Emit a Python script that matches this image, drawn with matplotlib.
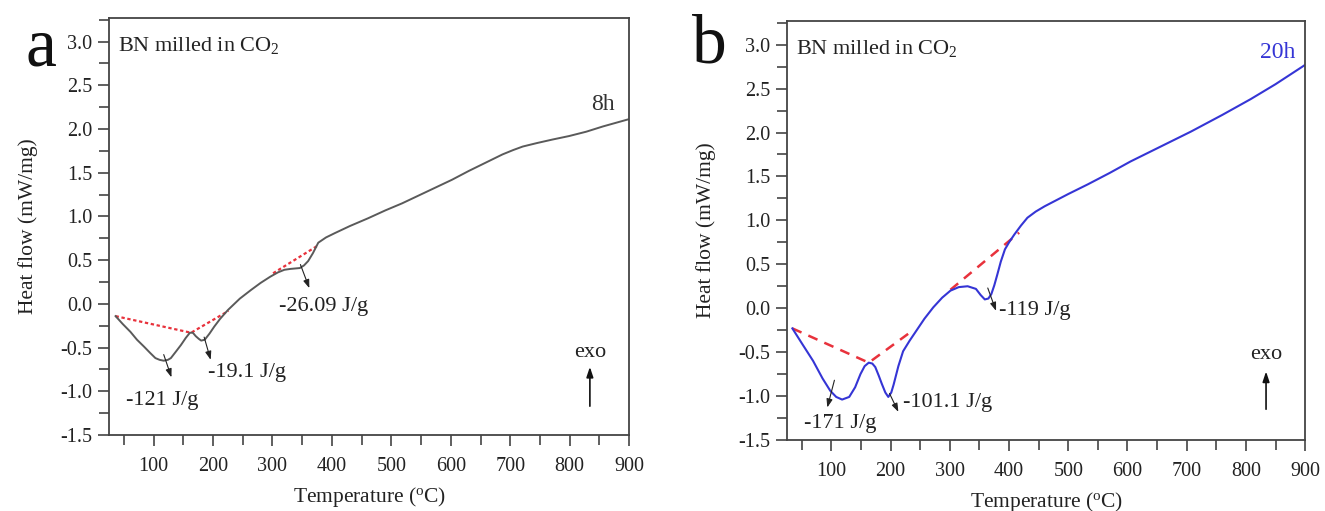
import matplotlib
matplotlib.use("Agg")
import matplotlib.pyplot as plt
from matplotlib.ticker import MultipleLocator

plt.rcParams['font.family'] = ['Liberation Serif', 'DejaVu Serif']
plt.rcParams['mathtext.fontset'] = 'custom'
plt.rcParams['mathtext.rm'] = 'Liberation Serif'
plt.rcParams['mathtext.it'] = 'Liberation Serif:italic'

# ---------------- data ----------------
# Panel a: 8h milled
temp_a = [36, 48, 61, 72, 84, 94, 103, 110, 117, 124, 129, 137, 146, 154, 161, 166,
          171, 176, 180, 186, 194, 202, 212, 225, 245, 264, 280, 296, 309, 320, 330,
          346, 353, 360, 368, 377, 390, 405, 430, 461, 490, 518, 546, 574, 602, 630,
          660, 687, 705, 721, 745, 771, 799, 828, 856, 898]
flow_a = [-0.14, -0.23, -0.32, -0.41, -0.49, -0.56, -0.62, -0.64, -0.65, -0.64, -0.62,
          -0.55, -0.47, -0.39, -0.33, -0.33, -0.37, -0.40, -0.42, -0.41, -0.34, -0.26,
          -0.17, -0.07, 0.06, 0.16, 0.24, 0.31, 0.36, 0.39, 0.40, 0.41, 0.44, 0.49,
          0.58, 0.70, 0.76, 0.81, 0.89, 0.98, 1.07, 1.15, 1.24, 1.33, 1.42, 1.52, 1.62,
          1.71, 1.76, 1.80, 1.84, 1.88, 1.92, 1.97, 2.03, 2.11]
base_a1_x = [36, 163, 226]
base_a1_y = [-0.14, -0.33, -0.08]
base_a2_x = [301, 377]
base_a2_y = [0.35, 0.67]

# Panel b: 20h milled
temp_b = [34, 50, 69, 85, 98, 108, 118, 130, 140, 149, 156, 163, 169, 174, 180, 185,
          191, 196, 201, 205, 213, 221, 232, 243, 257, 272, 287, 301, 315, 330, 344,
          352, 359, 365, 370, 375, 380, 386, 393, 400, 409, 420, 431, 445, 460, 500,
          533, 570, 605, 650, 707, 760, 808, 850, 900]
flow_b = [-0.23, -0.40, -0.60, -0.80, -0.94, -1.01, -1.04, -1.01, -0.90, -0.75, -0.66,
          -0.62, -0.63, -0.67, -0.77, -0.86, -0.96, -1.01, -0.96, -0.87, -0.66, -0.49,
          -0.37, -0.26, -0.12, 0.01, 0.12, 0.20, 0.24, 0.25, 0.22, 0.15, 0.10, 0.11,
          0.16, 0.26, 0.38, 0.53, 0.67, 0.75, 0.84, 0.94, 1.03, 1.10, 1.16, 1.30,
          1.41, 1.54, 1.67, 1.82, 2.01, 2.20, 2.38, 2.55, 2.77]
base_b1_x = [34, 163, 236]
base_b1_y = [-0.23, -0.62, -0.26]
base_b2_x = [301, 417]
base_b2_y = [0.21, 0.86]

x_ticks = [100, 200, 300, 400, 500, 600, 700, 800, 900]
y_ticks = [-1.5, -1.0, -0.5, 0.0, 0.5, 1.0, 1.5, 2.0, 2.5, 3.0]

# annotations: (label, arrow start, arrow end, text pos)
ann_a = [("-121 J/g", (117, -0.58), (130, -0.84), (53, -1.10)),
         ("-19.1 J/g", (185, -0.38), (196, -0.64), (191, -0.79)),
         ("-26.09 J/g", (347, 0.45), (362, 0.18), (311, -0.03))]
ann_b = [("-171 J/g", (105, -0.82), (93, -1.13), (53, -1.31)),
         ("-101.1 J/g", (198, -0.97), (213, -1.18), (221, -1.07)),
         ("-119 J/g", (364, 0.23), (378, -0.03), (383, -0.03))]

# ---------------- figure ----------------
fig = plt.figure(figsize=(13.25, 5.11), dpi=100)
ax_a = fig.add_axes([0.0823, 0.1487, 0.3925, 0.816])
ax_b = fig.add_axes([0.594, 0.139, 0.391, 0.820])

spine_col = '#444444'
fs_tick = 14.5
fs_lab = 15.5
fs_txt = 16


def style(ax):
    ax.set_xlim(25, 900)
    ax.set_ylim(-1.5, 3.27)
    ax.set_xticks(x_ticks)
    ax.set_yticks(y_ticks)
    ax.set_yticklabels([f"{v:.1f}" for v in y_ticks])
    ax.xaxis.set_minor_locator(MultipleLocator(50))
    ax.yaxis.set_minor_locator(MultipleLocator(0.25))
    ax.tick_params(which='both', direction='out', top=False, right=False,
                   color=spine_col, width=1.2, labelsize=fs_tick, colors='#222222')
    ax.tick_params(which='major', length=8)
    ax.tick_params(axis='x', which='major', pad=8)
    ax.tick_params(axis='y', which='major', pad=4)
    ax.tick_params(which='minor', length=7)
    for s in ax.spines.values():
        s.set_color(spine_col)
        s.set_linewidth(1.3)
    ax.set_xlabel(r'Temperature ($^{\mathrm{o}}$C)', fontsize=fs_lab, color='#222222', labelpad=6)
    ax.set_ylabel('Heat flow (mW/mg)', fontsize=fs_lab, color='#222222', labelpad=16)
    ax.text(40, 2.96, r'BN milled in CO$_2$', fontsize=fs_txt, color='#222222', va='center', ha='left')


def annotate(ax, items):
    for lab, p0, p1, pt in items:
        ax.annotate('', xy=p1, xytext=p0,
                    arrowprops=dict(arrowstyle='-|>,head_length=0.5,head_width=0.18',
                                    color='#222222', lw=0.8, shrinkA=0, shrinkB=0))
        ax.text(pt[0], pt[1], lab, fontsize=fs_txt, color='#222222', ha='left', va='center')


# panel a
style(ax_a)
ax_a.plot(base_a1_x, base_a1_y, color='#e8323c', lw=1.6, ls=(0, (1.5, 1.2)))
ax_a.plot(base_a2_x, base_a2_y, color='#e8323c', lw=1.6, ls=(0, (1.5, 1.2)))
ax_a.plot(temp_a, flow_a, color='#5a5a5a', lw=1.4)
annotate(ax_a, ann_a)
ax_a.text(856, 2.28, '8h', fontsize=fs_txt + 1, color='#333333', ha='center', va='center')
ax_a.text(834, -0.56, 'exo', fontsize=fs_txt, color='#222222', ha='center', va='center')
ax_a.annotate('', xy=(834, -0.72), xytext=(834, -1.17),
              arrowprops=dict(arrowstyle='-|>,head_length=0.6,head_width=0.2',
                              color='#111111', lw=1.2, shrinkA=0, shrinkB=0))
fig.text(0.031, 0.905, 'a', fontsize=50, color='#111111', ha='center', va='center')

# panel b
style(ax_b)
ax_b.plot(base_b1_x, base_b1_y, color='#e8323c', lw=1.8, ls=(0, (4, 3)))
ax_b.plot(base_b2_x, base_b2_y, color='#e8323c', lw=1.8, ls=(0, (4, 3)))
ax_b.plot(temp_b, flow_b, color='#3535d5', lw=1.5)
annotate(ax_b, ann_b)
ax_b.text(854, 2.91, '20h', fontsize=fs_txt + 1, color='#3535d5', ha='center', va='center')
ax_b.text(834, -0.53, 'exo', fontsize=fs_txt, color='#222222', ha='center', va='center')
ax_b.annotate('', xy=(834, -0.72), xytext=(834, -1.15),
              arrowprops=dict(arrowstyle='-|>,head_length=0.6,head_width=0.2',
                              color='#111111', lw=1.2, shrinkA=0, shrinkB=0))
fig.text(0.535, 0.91, 'b', fontsize=50, color='#111111', ha='center', va='center')

fig.savefig('out.png', dpi=100, facecolor='white')
